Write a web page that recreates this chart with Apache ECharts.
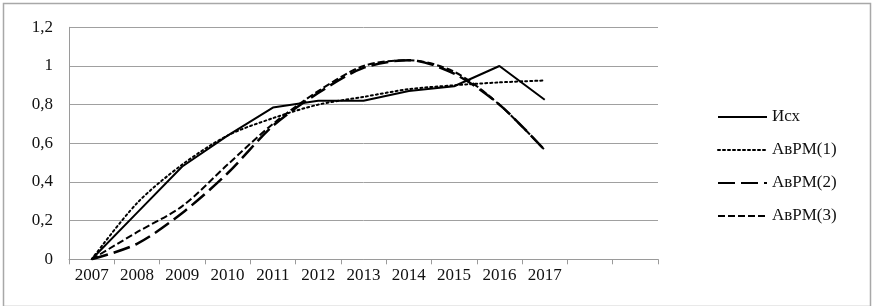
<!DOCTYPE html>
<html>
<head>
<meta charset="utf-8">
<script src="https://cdn.jsdelivr.net/npm/echarts@6/dist/echarts.min.js"></script>
<style>html,body{margin:0;padding:0;background:#fff;}#c{width:872px;height:306px;}</style>
</head>
<body>
<div id="c"></div>
<script>
const categories = ['2007','2008','2009','2010','2011','2012','2013','2014','2015','2016','2017','',''];
const yTicks = [0, 0.2, 0.4, 0.6, 0.8, 1, 1.2];
const seriesNames = ['Исх', 'АвРМ(1)', 'АвРМ(2)', 'АвРМ(3)'];
const isx  = [0, 0.24, 0.48, 0.64, 0.785, 0.82, 0.82, 0.87, 0.895, 1.0, 0.825];
const avrm1 = [0, 0.29, 0.49, 0.64, 0.73, 0.80, 0.84, 0.88, 0.90, 0.915, 0.925];
const avrm2 = [0, 0.08, 0.24, 0.445, 0.69, 0.86, 0.99, 1.03, 0.96, 0.80, 0.565];
const avrm3 = [0, 0.14, 0.275, 0.49, 0.70, 0.87, 1.0, 1.03, 0.97, 0.80, 0.565];

const font = 'Liberation Serif';
const chart = echarts.init(document.getElementById('c'));
chart.setOption({
  animation: false,
  backgroundColor: '#fff',
  graphic: [{
    type: 'rect', left: 1, top: 1, silent: true,
    shape: {width: 867, height: 303},
    style: {fill: 'none', stroke: '#a8a8a8', lineWidth: 1.5}
  }],
  grid: {left: 69, right: 214, top: 27.3, bottom: 46.7},
  legend: {
    orient: 'vertical', left: 712, top: 103.5,
    itemWidth: 49, itemHeight: 14, itemGap: 16,
    itemStyle: {opacity: 0},
    textStyle: {fontFamily: font, fontSize: 17, color: '#111'},
    data: seriesNames
  },
  xAxis: {
    type: 'category', data: categories, boundaryGap: true,
    axisLine: {lineStyle: {color: '#9a9a9a', width: 1}},
    axisTick: {show: true, interval: 0, length: 5, lineStyle: {color: '#9a9a9a'}},
    axisLabel: {interval: 0, margin: 8, fontFamily: font, fontSize: 17, color: '#111'},
    splitLine: {show: false}
  },
  yAxis: {
    type: 'value', min: 0, max: 1.2, interval: 0.2,
    axisLine: {show: true, lineStyle: {color: '#9a9a9a', width: 1}},
    axisTick: {show: false},
    axisLabel: {margin: 16, fontFamily: font, fontSize: 17, color: '#111',
      formatter: v => String(Math.round(v * 10) / 10).replace('.', ',')},
    splitLine: {lineStyle: {color: '#a0a0a0', width: 1}}
  },
  series: [
    {name: seriesNames[0], type: 'line', data: isx, symbol: 'none',
     lineStyle: {color: '#000', width: 2, type: 'solid'}, itemStyle: {color: '#000'}},
    {name: seriesNames[1], type: 'line', data: avrm1, symbol: 'none', smooth: 0.3,
     lineStyle: {color: '#000', width: 2, type: [2, 3], cap: 'round'}, itemStyle: {color: '#000'}},
    {name: seriesNames[2], type: 'line', data: avrm2, symbol: 'none', smooth: 0.3,
     lineStyle: {color: '#000', width: 2.5, type: [17, 6]}, itemStyle: {color: '#000'}},
    {name: seriesNames[3], type: 'line', data: avrm3, symbol: 'none', smooth: 0.3,
     lineStyle: {color: '#000', width: 2, type: [7, 3]}, itemStyle: {color: '#000'}}
  ]
});
</script>
</body>
</html>
